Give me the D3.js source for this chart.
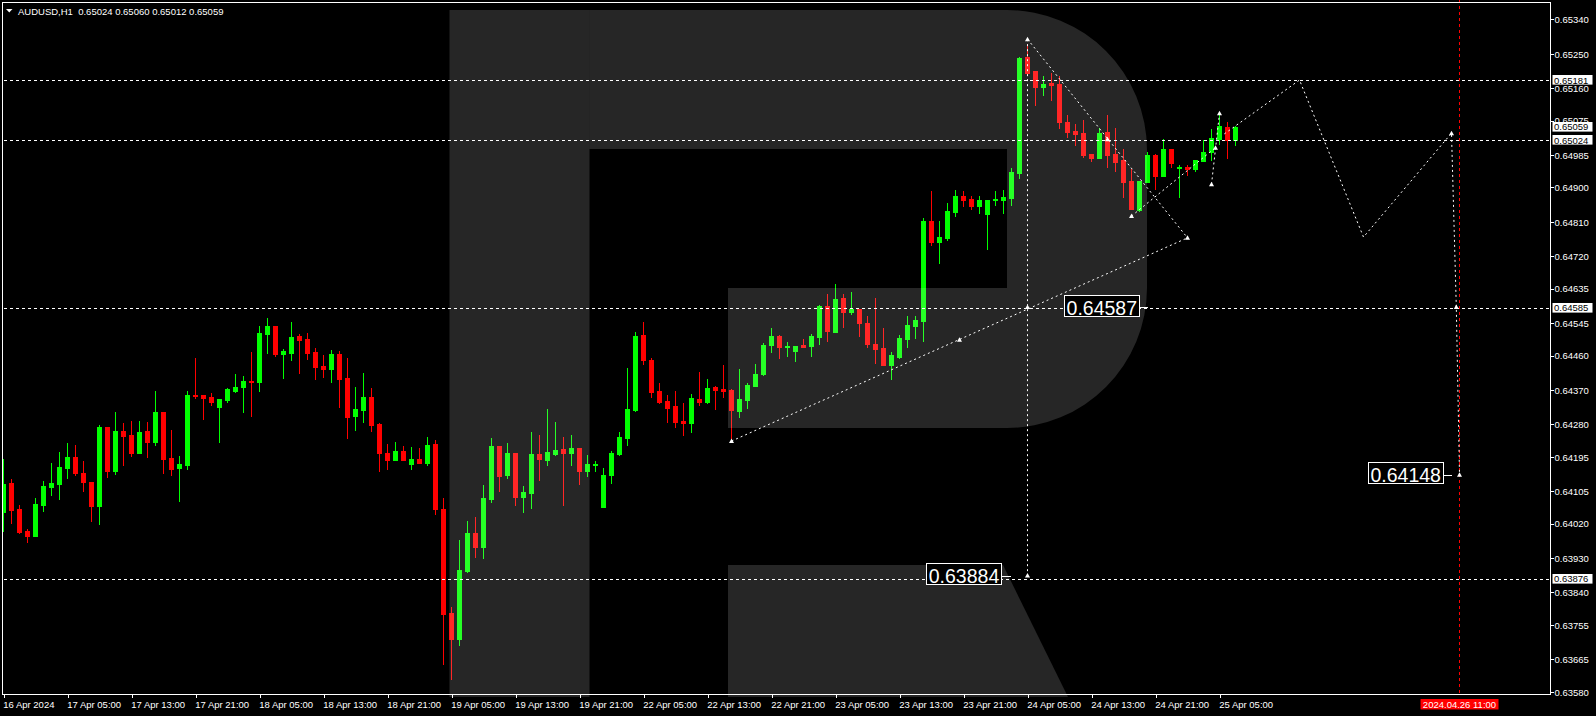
<!DOCTYPE html>
<html><head><meta charset="utf-8">
<script src="https://cdn.jsdelivr.net/npm/d3@7"></script>
<style>
html,body{margin:0;padding:0;background:#000;overflow:hidden}
svg{display:block}
text{font-family:"Liberation Sans",Arial,sans-serif}
</style></head><body>
<svg id="c" width="1596" height="716"></svg>
<script>
// ---------------- DATA ----------------
const symbolTitle = "AUDUSD,H1";
const lastBar = [0.65024, 0.65060, 0.65012, 0.65059];
const xLabels = ["16 Apr 2024","17 Apr 05:00","17 Apr 13:00","17 Apr 21:00","18 Apr 05:00","18 Apr 13:00","18 Apr 21:00","19 Apr 05:00","19 Apr 13:00","19 Apr 21:00","22 Apr 05:00","22 Apr 13:00","22 Apr 21:00","23 Apr 05:00","23 Apr 13:00","23 Apr 21:00","24 Apr 05:00","24 Apr 13:00","24 Apr 21:00","25 Apr 05:00"];
const yTicks = [0.65340,0.65250,0.65160,0.65075,0.64985,0.64900,0.64810,0.64720,0.64635,0.64545,0.64460,0.64370,0.64280,0.64195,0.64105,0.64020,0.63930,0.63840,0.63755,0.63665,0.63580];
const opens = [0.64050,0.64126,0.64058,0.64001,0.63988,0.64069,0.64116,0.64124,0.64166,0.64194,
0.64152,0.64129,0.64066,0.64273,0.64158,0.64262,0.64252,0.64205,0.64262,0.64234,
0.64312,0.64192,0.64166,0.64173,0.64357,0.64357,0.64351,0.64325,0.64344,0.64367,
0.64378,0.64393,0.64391,0.64516,0.64537,0.64464,0.64466,0.64511,0.64503,0.64469,
0.64433,0.64425,0.64464,0.64401,0.64302,0.64317,0.64351,0.64281,0.64205,0.64186,
0.64210,0.64176,0.64189,0.64179,0.64228,0.64058,0.63786,0.63718,0.63896,0.63995,
0.63959,0.64084,0.64223,0.64147,0.64205,0.64090,0.64100,0.64202,0.64186,0.64202,
0.64215,0.64205,0.64218,0.64158,0.64173,0.64063,0.64147,0.64202,0.64244,0.64317,
0.64514,0.64448,0.64367,0.64341,0.64328,0.64289,0.64283,0.64346,0.64338,0.64378,
0.64372,0.64370,0.64315,0.64344,0.64380,0.64412,0.64487,0.64511,0.64482,0.64472,
0.64487,0.64485,0.64508,0.64590,0.64522,0.64610,0.64574,0.64582,0.64545,0.64490,
0.64480,0.64435,0.64456,0.64503,0.64537,0.64550,0.64812,0.64757,0.64768,0.64836,
0.64878,0.64870,0.64851,0.64830,0.64867,0.64867,0.64872,0.64938,0.65241,0.65205,
0.65163,0.65173,0.65171,0.65071,0.65048,0.65042,0.64987,0.64977,0.65045,0.64987,
0.64972,0.64917,0.64841,0.64914,0.64985,0.64930,0.65001,0.64951,0.64953,0.64948,
0.64969,0.64993,0.65027,0.65058,0.65024];
const highs = [0.64189,0.64137,0.64069,0.64006,0.64087,0.64131,0.64179,0.64207,0.64231,0.64226,
0.64184,0.64129,0.64278,0.64273,0.64312,0.64283,0.64289,0.64289,0.64286,0.64367,
0.64312,0.64265,0.64197,0.64367,0.64453,0.64357,0.64362,0.64346,0.64375,0.64412,
0.64406,0.64469,0.64537,0.64558,0.64537,0.64477,0.64548,0.64516,0.64519,0.64480,
0.64461,0.64474,0.64472,0.64453,0.64378,0.64414,0.64375,0.64283,0.64228,0.64234,
0.64223,0.64220,0.64218,0.64247,0.64239,0.64087,0.63802,0.63977,0.64027,0.64037,
0.64121,0.64244,0.64223,0.64231,0.64205,0.64118,0.64260,0.64252,0.64320,0.64286,
0.64247,0.64252,0.64218,0.64200,0.64184,0.64166,0.64210,0.64260,0.64427,0.64522,
0.64548,0.64453,0.64388,0.64357,0.64367,0.64336,0.64359,0.64417,0.64398,0.64380,
0.64435,0.64372,0.64425,0.64388,0.64438,0.64493,0.64532,0.64514,0.64495,0.64485,
0.64503,0.64516,0.64592,0.64621,0.64647,0.64621,0.64626,0.64582,0.64563,0.64610,
0.64532,0.64469,0.64514,0.64563,0.64563,0.64820,0.64891,0.64812,0.64859,0.64893,
0.64891,0.64878,0.64878,0.64867,0.64891,0.64893,0.64951,0.65241,0.65275,0.65205,
0.65192,0.65199,0.65192,0.65089,0.65066,0.65076,0.64987,0.65056,0.65089,0.65056,
0.65001,0.64948,0.64917,0.64993,0.64987,0.65027,0.65001,0.64959,0.64959,0.64972,
0.65024,0.65053,0.65095,0.65071,0.65060];
const lows = [0.64001,0.64022,0.63995,0.63972,0.63988,0.64053,0.64095,0.64084,0.64139,0.64147,
0.64105,0.64027,0.64019,0.64142,0.64150,0.64173,0.64197,0.64205,0.64194,0.64226,
0.64152,0.64147,0.64079,0.64163,0.64349,0.64294,0.64330,0.64234,0.64338,0.64364,
0.64312,0.64302,0.64367,0.64466,0.64459,0.64401,0.64448,0.64414,0.64451,0.64398,
0.64404,0.64391,0.64325,0.64244,0.64265,0.64286,0.64262,0.64158,0.64163,0.64186,
0.64186,0.64163,0.64179,0.64173,0.64045,0.63652,0.63613,0.63702,0.63893,0.63933,
0.63930,0.64077,0.64105,0.64139,0.64069,0.64050,0.64061,0.64134,0.64173,0.64200,
0.64069,0.64173,0.64124,0.64145,0.64158,0.64063,0.64126,0.64200,0.64226,0.64315,
0.64438,0.64351,0.64336,0.64286,0.64273,0.64252,0.64260,0.64330,0.64336,0.64320,
0.64351,0.64239,0.64299,0.64323,0.64380,0.64409,0.64469,0.64453,0.64459,0.64446,
0.64482,0.64459,0.64490,0.64498,0.64522,0.64535,0.64569,0.64511,0.64482,0.64440,
0.64435,0.64398,0.64453,0.64482,0.64506,0.64498,0.64749,0.64702,0.64762,0.64825,
0.64851,0.64843,0.64833,0.64739,0.64854,0.64833,0.64854,0.64925,0.65197,0.65116,
0.65142,0.65129,0.65056,0.65032,0.65011,0.64980,0.64969,0.64977,0.64953,0.64943,
0.64875,0.64843,0.64838,0.64914,0.64896,0.64930,0.64953,0.64875,0.64932,0.64943,
0.64969,0.64972,0.65014,0.64977,0.65012];
const closes = [0.64124,0.64056,0.63998,0.63988,0.64071,0.64118,0.64126,0.64168,0.64194,0.64152,
0.64129,0.64066,0.64273,0.64158,0.64262,0.64249,0.64205,0.64260,0.64234,0.64312,
0.64189,0.64163,0.64176,0.64357,0.64354,0.64349,0.64338,0.64346,0.64372,0.64378,
0.64393,0.64391,0.64519,0.64537,0.64464,0.64472,0.64508,0.64501,0.64466,0.64430,
0.64425,0.64464,0.64398,0.64299,0.64320,0.64351,0.64278,0.64205,0.64186,0.64210,
0.64186,0.64189,0.64179,0.64226,0.64058,0.63783,0.63718,0.63899,0.63995,0.63959,
0.64087,0.64223,0.64145,0.64205,0.64090,0.64103,0.64202,0.64189,0.64207,0.64213,
0.64205,0.64218,0.64158,0.64176,0.64176,0.64147,0.64205,0.64247,0.64320,0.64511,
0.64448,0.64364,0.64338,0.64323,0.64286,0.64283,0.64349,0.64338,0.64375,0.64370,
0.64367,0.64317,0.64346,0.64383,0.64412,0.64487,0.64511,0.64482,0.64485,0.64485,
0.64482,0.64511,0.64590,0.64524,0.64608,0.64574,0.64582,0.64545,0.64490,0.64477,
0.64435,0.64461,0.64506,0.64540,0.64553,0.64812,0.64757,0.64770,0.64838,0.64878,
0.64867,0.64851,0.64867,0.64867,0.64870,0.64875,0.64940,0.65239,0.65199,0.65163,
0.65171,0.65168,0.65071,0.65045,0.65040,0.64985,0.64977,0.65042,0.64985,0.64967,
0.64914,0.64843,0.64917,0.64985,0.64930,0.65001,0.64964,0.64953,0.64948,0.64972,
0.64993,0.65029,0.65061,0.65024,0.65059];
const levels = [0.65181, 0.65024, 0.64585, 0.63876];
const currentPrice = 0.65059;
// forecast drawings: [bar index, price]
const fcSupport = [[91,0.64236],[148,0.64768]];
const fcDown = [[128,0.65288],[148,0.64768]];
const fcVertical = [[128,0.65288],[128,0.63884]];
const fcUp = [[141,0.64825],[151.5,0.65004]];
const fcSmall = [[151,0.64908],[152,0.65094]];
const fcPath = [[152.6,0.65040],[162,0.65181],[170,0.64770],[181,0.65042],[181.6,0.64587],[182,0.64148]];
const fcMarkers = [[91,0.64236],[119.5,0.64501],[128,0.64587],[148,0.64768],[128,0.65288],[138,0.65026],[141,0.64825],[151,0.64908],[151.5,0.65004],[152,0.65094],[181,0.65042],[181.6,0.64587],[182,0.64148],[128,0.63884]];
const targetLabels = [{text:"0.64587",bar:128,price:0.64587,side:"right"},{text:"0.63884",bar:128,price:0.63884,side:"left"},{text:"0.64148",bar:182,price:0.64148,side:"left"}];
const cursorBar = 182;
const cursorLabel = "2024.04.26 11:00";

// ---------------- DRAW ----------------
const W=1596,H=716;
const svg=d3.select("#c");
svg.append("rect").attr("width",W).attr("height",H).attr("fill","#000");
const x=d3.scaleLinear().domain([0,182]).range([3.5,3.5+8*182]);
const y=d3.scaleLinear().domain([0.63580,0.65340]).range([691.7,19.3]);
const PL=2.5,PR=1550.5,PT=2.5,PB=694.5;

svg.append("defs").append("clipPath").attr("id","clip")
  .append("rect").attr("x",PL+0.5).attr("y",PT+0.5).attr("width",PR-PL-1).attr("height",PB-PT-1);

const plot=svg.append("g").attr("clip-path","url(#clip)");
const GREEN="#00ff00",RED="#ff0000";
const bars=opens.map((o,i)=>({i,o,h:highs[i],l:lows[i],c:closes[i]}));
const cg=plot.append("g").attr("shape-rendering","crispEdges");
cg.selectAll("rect.w").data(bars).join("rect").attr("class","w")
  .attr("x",d=>Math.round(x(d.i)-0.5)).attr("width",1)
  .attr("y",d=>Math.round(y(d.h))).attr("height",d=>Math.max(1,Math.round(y(d.l))-Math.round(y(d.h))+1))
  .attr("fill",d=>d.c>=d.o?GREEN:RED);
cg.selectAll("rect.b").data(bars).join("rect").attr("class","b")
  .attr("x",d=>Math.round(x(d.i)-2.5)).attr("width",5)
  .attr("y",d=>Math.round(y(Math.max(d.o,d.c))))
  .attr("height",d=>Math.max(1,Math.round(y(Math.min(d.o,d.c)))-Math.round(y(Math.max(d.o,d.c)))+1))
  .attr("fill",d=>d.c>=d.o?GREEN:RED);

// watermark "R"
const wm=svg.append("g").attr("fill","#ffffff").attr("fill-opacity",0.15);
wm.append("rect").attr("x",449.5).attr("y",10).attr("width",140).attr("height",687);
wm.append("path").attr("d","M589.5,10 L1007,10 A140,140 0 0 1 1147,150 L1147,288 A140,140 0 0 1 1007,428 L728,428 L728,288 L1007,288 L1007,149 L589.5,149 Z");
wm.append("path").attr("d","M728,565 L1003,565 L1068,697 L728,697 Z");

// level lines
const lv=svg.append("g").attr("shape-rendering","crispEdges");
lv.selectAll("line").data(levels).join("line")
  .attr("x1",PL+1).attr("x2",PR-1)
  .attr("y1",d=>Math.round(y(d))+0.5).attr("y2",d=>Math.round(y(d))+0.5)
  .attr("stroke","#fff").attr("stroke-dasharray","3,3");

// cursor line (red dashed)
svg.append("line").attr("x1",x(cursorBar)).attr("x2",x(cursorBar)).attr("y1",0).attr("y2",PB)
  .attr("stroke",RED).attr("stroke-dasharray","3,3").attr("shape-rendering","crispEdges");

// forecast
const lineGen=d3.line().x(d=>x(d[0])).y(d=>y(d[1]));
const fc=svg.append("g").attr("fill","none").attr("stroke","#fff").attr("stroke-width",1).attr("stroke-dasharray","2,3");
[fcSupport,fcDown,fcVertical,fcUp,fcSmall,fcPath].forEach(s=>fc.append("path").attr("d",lineGen(s)));
svg.append("g").selectAll("path").data(fcMarkers).join("path")
  .attr("transform",d=>`translate(${x(d[0])},${y(d[1])})`)
  .attr("d","M-2.5,2 L0,-2.5 L2.5,2 Z").attr("fill","#fff");

// target labels
const tl=svg.append("g");
targetLabels.forEach(t=>{
  const px=x(t.bar), py=y(t.price);
  const bw=75,bh=21;
  let bx = t.side==="right" ? px+36.3 : (t.bar===182 ? px-91.8 : px-101.5);
  tl.append("rect").attr("x",Math.round(bx)+0.5).attr("y",Math.round(py-12.4)+0.5).attr("width",bw).attr("height",bh)
    .attr("fill","#000").attr("stroke","#fff").attr("stroke-width",1).attr("shape-rendering","crispEdges");
  tl.append("text").attr("x",bx+bw/2+0.5).attr("y",py+7.6).attr("text-anchor","middle")
    .attr("fill","#fff").attr("font-size",19.5).text(t.text);
  tl.append("line").attr("x1",bx+bw).attr("x2",bx+bw+9.5).attr("y1",Math.round(py)+0.5).attr("y2",Math.round(py)+0.5)
    .attr("stroke","#fff").attr("shape-rendering","crispEdges");
});

// frame
svg.append("rect").attr("x",PL).attr("y",PT).attr("width",PR-PL).attr("height",PB-PT)
  .attr("fill","none").attr("stroke","#fff").attr("shape-rendering","crispEdges");

// x axis
const xa=svg.append("g").attr("transform",`translate(0,${PB})`)
  .call(d3.axisBottom(x).tickValues(d3.range(0,153,8)).tickFormat((d,k)=>xLabels[k]).tickSize(3).tickSizeOuter(0));
xa.select(".domain").remove();
xa.selectAll(".tick line").attr("stroke","#fff").attr("shape-rendering","crispEdges");
xa.selectAll(".tick text").attr("fill","#fff").attr("font-size",9.5).attr("font-family","Liberation Sans, Arial, sans-serif")
  .attr("text-anchor","start").attr("x",-0.8).attr("y",13.5).attr("dy",0);

// y axis
const ya=svg.append("g").attr("transform",`translate(${PR},0)`)
  .call(d3.axisRight(y).tickValues(yTicks).tickFormat(d3.format(".5f")).tickSize(3).tickSizeOuter(0));
ya.select(".domain").remove();
ya.selectAll(".tick line").attr("stroke","#fff").attr("shape-rendering","crispEdges");
ya.selectAll(".tick text").attr("fill","#fff").attr("font-size",9.5).attr("font-family","Liberation Sans, Arial, sans-serif")
  .attr("x",4).attr("dy","0.35em");

// price boxes
const pb=svg.append("g");
levels.concat([currentPrice]).forEach(v=>{
  const py=y(v);
  pb.append("rect").attr("x",1552.5).attr("y",Math.round(py-4.8)).attr("width",40).attr("height",9.6).attr("fill","#fff");
  pb.append("text").attr("x",1554).attr("y",py+3.5).attr("fill","#000").attr("font-size",9.5).text(v.toFixed(5));
});

// cursor time label
const cx=x(cursorBar);
svg.append("rect").attr("x",cx-39).attr("y",699).attr("width",78).attr("height",10.5).attr("fill",RED);
svg.append("text").attr("x",cx).attr("y",707.8).attr("text-anchor","middle").attr("fill","#fff").attr("font-size",9.5).text(cursorLabel);

// title
svg.append("path").attr("d","M6,9 L12.5,9 L9.25,12.5 Z").attr("fill","#fff");
svg.append("text").attr("x",18).attr("y",14.5).attr("fill","#fff").attr("font-size",9.5).style("white-space","pre")
  .text(symbolTitle+"  "+lastBar.map(v=>v.toFixed(5)).join(" "));
</script>
</body></html>
